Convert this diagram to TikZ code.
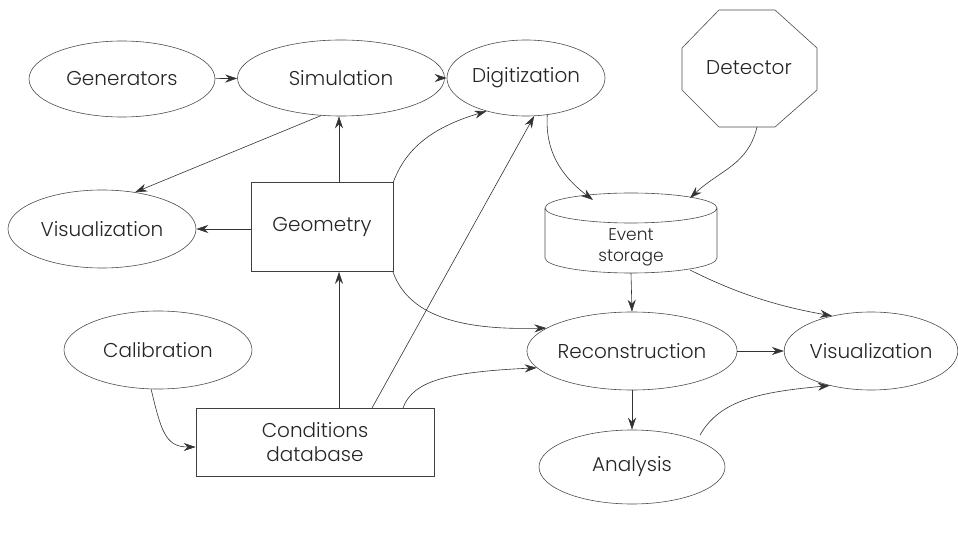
\documentclass[tikz,border=0pt]{standalone}
\usepackage{fontspec}
\IfFontExistsTF{Poppins Light}{\setmainfont{Poppins Light}}{\setmainfont{Poppins}}
\usetikzlibrary{shapes.geometric,arrows.meta}
\begin{document}
\begin{tikzpicture}[x=1pt,y=-1pt,
  every node/.style={font=\fontsize{20}{23}\selectfont, text=black!85},
  ell/.style={draw=black!70, line width=0.6pt, ellipse, inner sep=0pt},
  box/.style={draw=black!75, line width=0.6pt, rectangle, inner sep=0pt, align=center},
  arr/.style={draw=black!80, line width=0.6pt, -{Stealth[length=12pt,width=8pt]}}]
\useasboundingbox (0,0) rectangle (958,534);
% nodes
\node[ell, minimum width=186pt, minimum height=76pt] (gen) at (122,79) {Generators};
\node[ell, minimum width=207pt, minimum height=76pt] (sim) at (341,78) {Simulation};
\node[ell, minimum width=158pt, minimum height=76pt] (dig) at (526,78) {Digitization};
\draw[black!70, line width=0.6pt] (719,10) -- (775,10) -- (817,48) -- (817,90) -- (775,127) -- (719,127) -- (682,90) -- (682,48) -- cycle;
\node[minimum width=135pt, minimum height=117pt, inner sep=0pt] (det) at (749,68) {Detector};
\node[ell, minimum width=188pt, minimum height=78pt] (visl) at (102,229) {Visualization};
\node[box, minimum width=142pt, minimum height=89pt] (geo) at (322,227) {Geometry};
% event storage cylinder
\draw[black!70, line width=0.6pt] (545,208) arc[start angle=180, end angle=360, x radius=86pt, y radius=15pt]
  arc[start angle=0, end angle=180, x radius=86pt, y radius=15pt] -- (545,258)
  arc[start angle=180, end angle=360, x radius=86pt, y radius=15pt] -- (717,208);
\node[minimum width=172pt, minimum height=80pt, inner sep=0pt] (ev) at (631,233) {};
\node[align=center, font=\fontsize{17}{21}\selectfont, inner sep=0pt] (evt) at (631,247) {Event\\storage};
\node[ell, minimum width=188pt, minimum height=78pt] (cal) at (158,350) {Calibration};
\node[box, minimum width=238pt, minimum height=68pt, font=\fontsize{20}{24}\selectfont] (cond) at (315,442) {Conditions\\database};
\node[ell, minimum width=186pt, minimum height=78pt] (rec) at (632,351) {Reconstruction};
\node[ell, minimum width=170pt, minimum height=78pt] (visr) at (871,351) {Visualization};
\node[ell, minimum width=186pt, minimum height=74pt] (ana) at (632,467) {Analysis};
% edges
\draw[arr] (gen) -- (sim);
\draw[arr] (sim.-118) -- (visl.48);
\draw[arr] (sim) -- (dig);
\draw[arr] (geo.north -| 339,0) -- (sim.south -| 339,0);
\draw[arr] (geo.west |- visl.east) -- (visl.east);
\draw[arr] (393,183) .. controls (405,150) and (430,128) .. (dig.-140);
\draw[arr] (393,272) .. controls (410,320) and (470,330) .. (rec.165);
\draw[arr] (cond.north -| 339,0) -- (geo.south -| 339,0);
\draw[arr] (372,408) -- (dig.-78);
\draw[arr] (403,408) .. controls (413,380) and (450,372) .. (rec.190);
\draw[arr] (cal.-100) .. controls (161,430) and (165,447) .. (cond.west |- 0,447);
\draw[arr] (dig.-60) .. controls (545,150) and (560,175) .. (593,200);
\draw[arr] (757,127) .. controls (748,165) and (720,170) .. (690,198);
\draw[arr] (ev.south) -- (rec.north);
\draw[arr] (690,270) .. controls (730,290) and (770,305) .. (visr.138);
\draw[arr] (rec) -- (visr);
\draw[arr] (rec.south) -- (ana.north);
\draw[arr] (700,435) .. controls (720,400) and (760,392) .. (visr.-140);
\end{tikzpicture}
\end{document}
